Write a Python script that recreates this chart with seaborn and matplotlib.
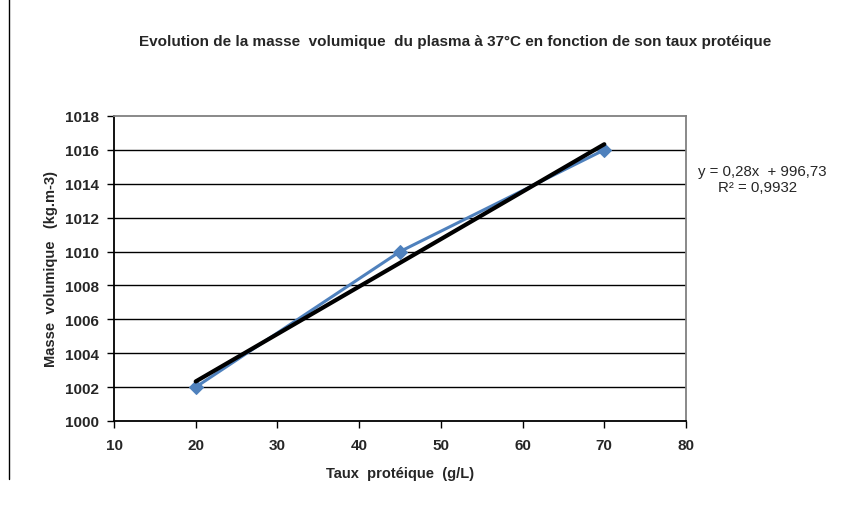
import numpy as np
import pandas as pd
import matplotlib
matplotlib.use('Agg')
from matplotlib import pyplot as plt
import seaborn as sns

# data
taux = [20, 45, 70]
masse = [1002, 1010, 1016]
x_ticks = [10, 20, 30, 40, 50, 60, 70, 80]
y_ticks = [1000, 1002, 1004, 1006, 1008, 1010, 1012, 1014, 1016, 1018]

df = pd.DataFrame({'taux': taux, 'masse': masse})

sns.set_style('white')
plt.rcParams['font.family'] = ['Liberation Sans', 'DejaVu Sans']

fig = plt.figure(figsize=(8.43, 5.10), dpi=100)
ax = fig.add_axes([114 / 843, 1 - 422 / 510, (686 - 114) / 843, (422 - 117) / 510])

# horizontal grid
for yv in y_ticks[1:-1]:
    ax.axhline(yv, color='black', lw=1, zorder=0)

# data series
sns.lineplot(data=df, x='taux', y='masse', color='#4F81BD', lw=2.2,
             marker='D', markersize=7.5, markeredgecolor='#4F81BD', ax=ax, zorder=2)

# linear trendline
sns.regplot(data=df, x='taux', y='masse', scatter=False, ci=None, truncate=True,
            line_kws={'color': 'black', 'lw': 3, 'zorder': 3}, ax=ax)

# fit text
slope, inter = np.polyfit(taux, masse, 1)
r2 = np.corrcoef(taux, masse)[0, 1] ** 2
eq = f'y = {slope:.2f}x  + {inter:.2f}'.replace('.', ',')
fig.text(762 / 843, 1 - 172 / 510, eq, ha='center', va='center', fontsize=10.8)
fig.text(758 / 843, 1 - 188 / 510, f'R² = {r2:.4f}'.replace('.', ','), ha='center', va='center', fontsize=10.8)

ax.set_xlim(10, 80)
ax.set_ylim(1000, 1018)
ax.set_xticks(x_ticks)
ax.set_yticks(y_ticks)
ax.tick_params(axis='both', direction='out', length=5, width=1, color='black',
               labelsize=11, bottom=True, left=True)
ax.tick_params(axis='y', pad=6)
ax.tick_params(axis='x', pad=7)
for lab in ax.get_xticklabels() + ax.get_yticklabels():
    lab.set_fontweight('bold')

ax.spines['left'].set_color('black')
ax.spines['bottom'].set_color('black')
ax.spines['top'].set_color('#808080')
ax.spines['right'].set_color('#808080')
for sp in ax.spines.values():
    sp.set_linewidth(1.3)

ax.set_xlabel('Taux  protéique  (g/L)', fontsize=10.5, fontweight='bold', labelpad=10)
ax.set_ylabel('Masse  volumique   (kg.m-3)', fontsize=10.5, fontweight='bold', labelpad=5)

fig.text(455 / 843, 1 - 42 / 510,
         'Evolution de la masse  volumique  du plasma à 37°C en fonction de son taux protéique',
         ha='center', va='center', fontsize=11, fontweight='bold')

# left border fragment
fig.add_artist(plt.Line2D([9 / 843, 9 / 843], [1 - 480 / 510, 1], color='black', lw=1))

fig.savefig('out.png', dpi=100)
